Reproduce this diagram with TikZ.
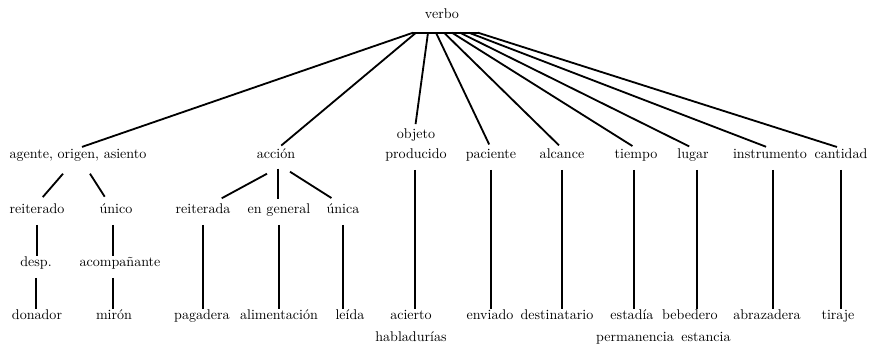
\documentclass[tikz,border=0pt]{standalone}
\usetikzlibrary{calc}
\begin{document}
\begin{tikzpicture}[x=0.025cm, y=-0.025cm, font=\normalsize]

    % Define node styles
    \tikzstyle{word_block} = [inner sep=0pt, text height=7pt, text depth=5pt, text centered]
    \tikzstyle{fan_link} = [line width=1.3pt, shorten >=3pt]
    \tikzstyle{tree_link} = [line width=1.3pt, shorten <=3pt]

    \useasboundingbox (0,0) rectangle (870,348);

    % Draw nodes
    \node [word_block] (verbo) at (442,17) {verbo};

    \node [word_block] (agente) at (78,157) {agente, origen, asiento};
    \node [word_block] (accion) at (276,157) {acción};
    \node [word_block] (objeto) at (416,137) {objeto};
    \node [word_block, below of=objeto, node distance=0.5cm] (producido) {producido};
    \node [word_block] (paciente) at (491,157) {paciente};
    \node [word_block] (alcance) at (562,157) {alcance};
    \node [word_block] (tiempo) at (636,157) {tiempo};
    \node [word_block] (lugar) at (693,157) {lugar};
    \node [word_block] (instrumento) at (770,157) {instrumento};
    \node [word_block] (cantidad) at (841,157) {cantidad};

    \node [word_block] (reiterado) at (37,212) {reiterado};
    \node [word_block] (unico) at (116,212) {único};
    \node [word_block] (reiterada) at (203,212) {reiterada};
    \node [word_block] (en_general) at (279,212) {en general};
    \node [word_block] (unica) at (343,212) {única};

    \node [word_block] (desp) at (36,265) {desp.};
    \node [word_block] (acompanante) at (120,265) {acompañante};

    \node [word_block] (donador) at (37,318) {donador};
    \node [word_block] (miron) at (114,318) {mirón};
    \node [word_block] (pagadera) at (202,318) {pagadera};
    \node [word_block] (alimentacion) at (279,318) {alimentación};
    \node [word_block] (leida) at (350,318) {leída};
    \node [word_block] (acierto) at (411,318) {acierto};
    \node [word_block, below of=acierto, node distance=0.55cm] (habladurias) {habladurías};
    \node [word_block] (enviado) at (490,318) {enviado};
    \node [word_block] (destinatario) at (557,318) {destinatario};
    \node [word_block] (estadia) at (632,318) {estadía};
    \node [word_block] (permanencia) at (635,340) {permanencia};
    \node [word_block] (bebedero) at (690,318) {bebedero};
    \node [word_block] (estancia) at (706,340) {estancia};
    \node [word_block] (abrazadera) at (767,318) {abrazadera};
    \node [word_block] (tiraje) at (838,318) {tiraje};

    % Draw fan under verbo
    \draw [line width=1.3pt] ($(verbo.south)+(-30,7)$) -- ($(verbo.south)+(37,7)$);
    \draw [fan_link] ($(verbo.south)+(-29,7)$) -- (agente.north);
    \draw [fan_link] ($(verbo.south)+(-26,7)$) -- ($(accion.north)+(2,0)$);
    \draw [fan_link] ($(verbo.south)+(-14,7)$) -- ($(objeto.north)+(-1,0)$);
    \draw [fan_link] ($(verbo.south)+(-6,7)$) -- (paciente.north);
    \draw [fan_link] ($(verbo.south)+(2,7)$) -- (alcance.north);
    \draw [fan_link] ($(verbo.south)+(10,7)$) -- (tiempo.north);
    \draw [fan_link] ($(verbo.south)+(18,7)$) -- (lugar.north);
    \draw [fan_link] ($(verbo.south)+(27,7)$) -- (instrumento.north);
    \draw [fan_link] ($(verbo.south)+(36,7)$) -- (cantidad.north);

    % Draw branches
    \draw [fan_link] ($(agente.south)+(-15,8)$) -- ($(reiterado.north)+(3,-3)$);
    \draw [fan_link] ($(agente.south)+(12,8)$) -- ($(unico.north)+(-9,-3)$);
    \draw [fan_link] ($(accion.south)+(-9,8)$) -- ($(reiterada.north)+(15,-3)$);
    \draw [fan_link] ($(accion.south)+(2,3)$) -- ($(en_general.north)+(-1,0)$);
    \draw [fan_link] ($(accion.south)+(14,6)$) -- ($(unica.north)+(-8,-3)$);

    % Draw vertical links
    \draw [tree_link] (reiterado.south) -- (reiterado.south |- desp.north);
    \draw [tree_link] (desp.south) -- (desp.south |- donador.north);
    \draw [tree_link] ($(unico.south)+(-3,0)$) -- ($(unico.south |- acompanante.north)+(-3,0)$);
    \draw [tree_link] ($(acompanante.south)+(-7,0)$) -- ($(acompanante.south |- miron.north)+(-7,0)$);
    \draw [tree_link] (reiterada.south) -- (reiterada.south |- pagadera.north);
    \draw [tree_link] (en_general.south) -- (en_general.south |- alimentacion.north);
    \draw [tree_link] (unica.south) -- (unica.south |- leida.north);
    \draw [tree_link] ($(producido.south)+(-1,0)$) -- ($(producido.south |- acierto.north)+(-1,0)$);
    \draw [tree_link] (paciente.south) -- (paciente.south |- enviado.north);
    \draw [tree_link] (alcance.south) -- (alcance.south |- destinatario.north);
    \draw [tree_link] ($(tiempo.south)+(-2,0)$) -- ($(tiempo.south |- estadia.north)+(-2,0)$);
    \draw [tree_link] ($(lugar.south)+(4,0)$) -- ($(lugar.south |- bebedero.north)+(4,0)$);
    \draw [tree_link] ($(instrumento.south)+(3,0)$) -- ($(instrumento.south |- abrazadera.north)+(3,0)$);
    \draw [tree_link] (cantidad.south) -- (cantidad.south |- tiraje.north);

\end{tikzpicture}
\end{document}
